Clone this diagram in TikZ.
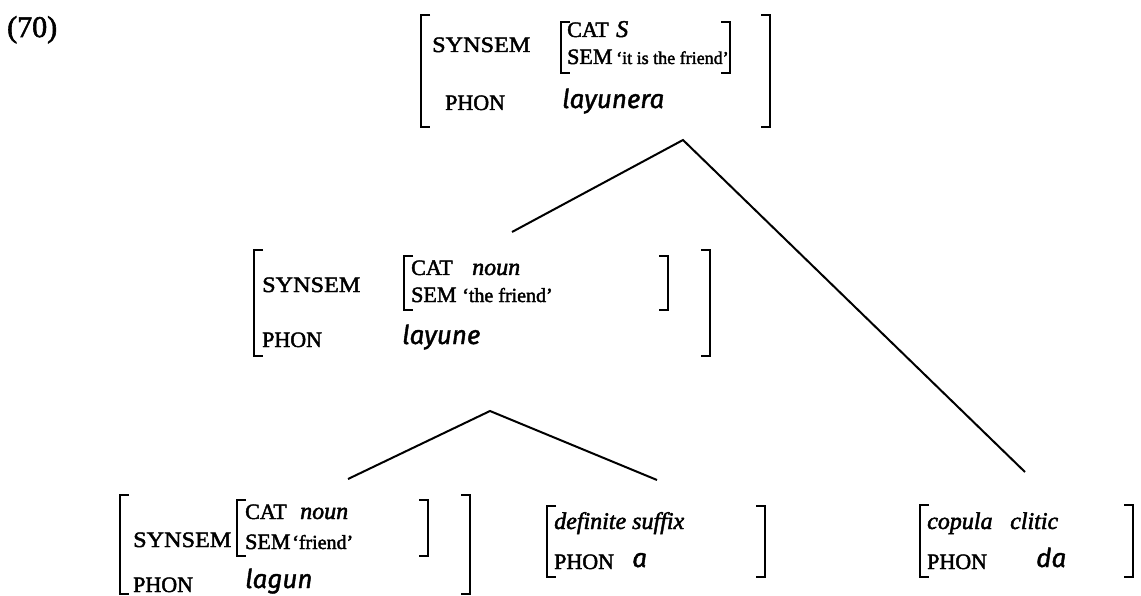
\documentclass[tikz,border=0pt]{standalone}
\usepackage{fontspec}
\setmainfont{Liberation Serif}[RawFeature={embolden=2}]
\newfontfamily\labfont{Liberation Serif}[FakeStretch=1.1,RawFeature={embolden=2}]
\newfontfamily\phonfont{Fira Sans}[RawFeature={embolden=1.5}]
\newcommand\myLB[3]{\draw[brk] (#1+9,#2) -- (#1,#2) -- (#1,#3) -- (#1+9,#3);}
\newcommand\myRB[3]{\draw[brk] (#1-9,#2) -- (#1,#2) -- (#1,#3) -- (#1-9,#3);}
\tikzset{
  lab/.style={font=\labfont\fontsize{22}{26}\selectfont, anchor=base west, inner sep=0pt},
  slab/.style={font=\fontsize{22}{26}\selectfont, anchor=base west, inner sep=0pt},
  val/.style={font=\fontsize{24}{28}\selectfont\itshape, anchor=base west, inner sep=0pt},
  rom/.style={font=\fontsize{20}{24}\selectfont, anchor=base west, inner sep=0pt},
  ph/.style={font=\phonfont\itshape\fontsize{26}{30}\selectfont, anchor=base west, inner sep=0pt},
  num/.style={font=\fontsize{30}{34}\selectfont, anchor=base west, inner sep=0pt},
  brk/.style={line width=1.8pt},
  edge/.style={line width=2pt}
}
\begin{document}
\begin{tikzpicture}[x=1pt,y=-1pt]
\useasboundingbox (0,0) rectangle (1141,596);
\node[num] (ex) at (7,37) {(70)};
% top node
\myLB{421}{15}{127}\myRB{770}{15}{127}
\myLB{561}{22}{73}\myRB{730}{22}{73}
\node[lab] (t1) at (432,52) {SYNSEM};
\node[slab] (t2) at (567,37) {CAT};
\node[val] (t3) at (616,37) {S};
\node[slab] (t4) at (567,64) {SEM};
\node[rom,font=\fontsize{18}{22}\selectfont] (t5) at (616,64) {‘it is the friend’};
\node[slab] (t6) at (445,110) {PHON};
\node[ph] (t7) at (562,108) {layunera};
\coordinate (tfoot) at (683,140);
% middle node
\myLB{254}{250}{356}\myRB{710}{250}{356}
\myLB{404}{256}{310}\myRB{668}{256}{310}
\node[lab] (m1) at (262,292) {SYNSEM};
\node[slab] (m2) at (411,275) {CAT};
\node[val] (m3) at (472,275) {noun};
\node[slab] (m4) at (411,302) {SEM};
\node[rom] (m5) at (462,302) {‘the friend’};
\node[slab] (m6) at (262,347) {PHON};
\node[ph] (m7) at (402,344) {layune};
\coordinate (mhead) at (512,232);
\coordinate (mfoot) at (490,411);
% bottom left
\myLB{120}{495}{594}\myRB{470}{495}{594}
\myLB{237}{500}{556}\myRB{428}{500}{556}
\node[lab] (l1) at (133,547) {SYNSEM};
\node[slab] (l2) at (245,519) {CAT};
\node[val] (l3) at (300,519) {noun};
\node[slab] (l4) at (245,549) {SEM};
\node[rom] (l5) at (292,549) {‘friend’};
\node[slab] (l6) at (133,592) {PHON};
\node[ph] (l7) at (245,588) {lagun};
\coordinate (lhead) at (348,479);
% bottom middle
\myLB{547}{506}{577}\myRB{765}{506}{577}
\node[val] (d1) at (554,529) {definite suffix};
\node[slab] (d2) at (554,569) {PHON};
\node[ph] (d3) at (632,567) {a};
\coordinate (dhead) at (657,480);
% bottom right
\myLB{920}{505}{577}\myRB{1133}{505}{577}
\node[val] (c1) at (927,529) {copula};
\node[val] (c1b) at (1010,529) {clitic};
\node[slab] (c2) at (927,569) {PHON};
\node[ph] (c3) at (1036,567) {da};
\coordinate (chead) at (1025,472);
% connectors
\draw[edge] (mhead) -- (tfoot) -- (chead);
\draw[edge] (lhead) -- (mfoot) -- (dhead);
\end{tikzpicture}
\end{document}
